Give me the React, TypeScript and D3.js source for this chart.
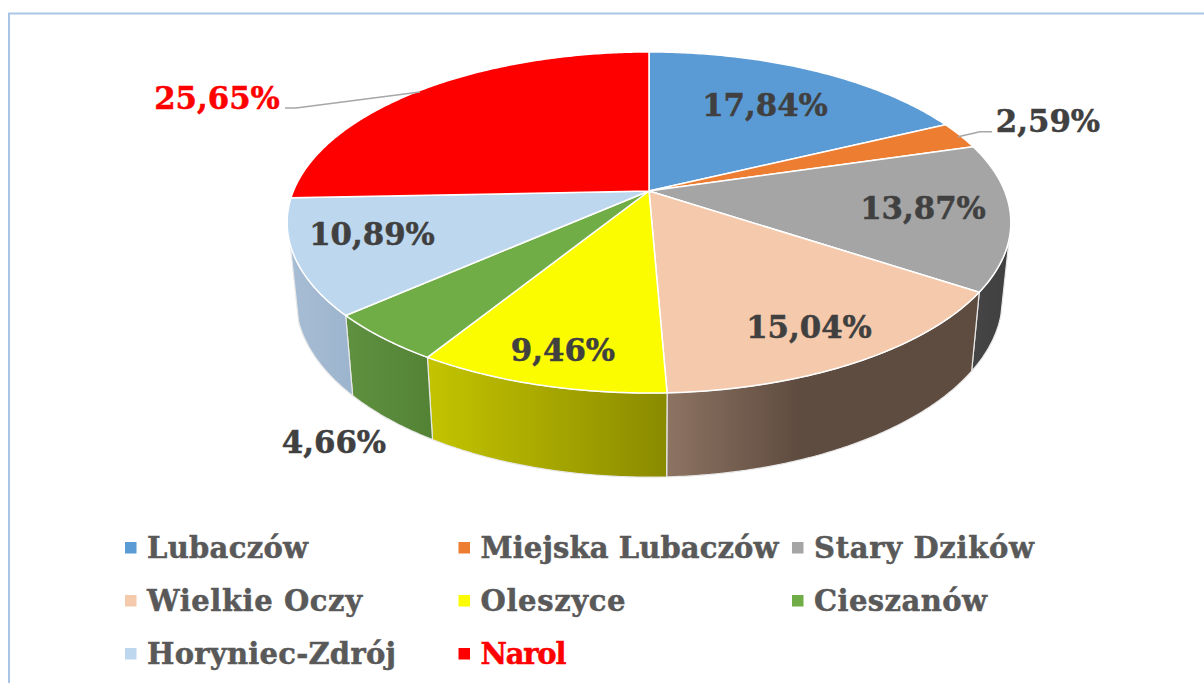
import React from "react";
import * as d3 from "d3";

const categories = ["Lubaczów", "Miejska Lubaczów", "Stary Dzików", "Wielkie Oczy", "Oleszyce", "Cieszanów", "Horyniec-Zdrój", "Narol"];
const values = [17.84, 2.59, 13.87, 15.04, 9.46, 4.66, 10.89, 25.65];
const valueLabels = ["17,84%", "2,59%", "13,87%", "15,04%", "9,46%", "4,66%", "10,89%", "25,65%"];
const topColors = ["#5b9bd5", "#ed7d31", "#a5a5a5", "#f5c9ab", "#fcfc00", "#70ad47", "#bdd7ee", "#ff0000"];
const sideFrom = ["#355d80", "#8e4b1d", "#454545", "#8d7362", "#c4c400", "#5f9140", "#a7bdd4", "#990000"];
const sideTo = ["#355d80", "#8e4b1d", "#404040", "#5f4c40", "#8a8a00", "#538235", "#9cb4cd", "#990000"];
const labelColors = ["#404040", "#404040", "#404040", "#404040", "#404040", "#404040", "#404040", "#ff0000"];
const legendColors = ["#595959", "#595959", "#595959", "#595959", "#595959", "#595959", "#595959", "#ff0000"];
const legendWidths = [161, 298, 220, 215, 145, 173, 249, 86];

const W = 1204, H = 683;
const FONT = "'DejaVu Serif', serif";
// perspective projection of the pie disc
const CX = 649, CY = 191, A = 355.6, B = 164.7, K = 0.1847;
const BOTTOM_CY = 265, BOTTOM_SX = 0.977, BOTTOM_SY = 1.05;
const SIDE_START = (106 * Math.PI) / 180, SIDE_END = (252 * Math.PI) / 180;
const labelCenters: [number, number][] = [[765, 105], [1048, 121], [923, 208], [809, 327], [563, 350], [334, 442], [372, 234], [217, 98]];
const leaders: ([number, number][] | null)[] = [null, [[992, 131.7], [980, 131.7], [958, 136.7]], null, null, null, null, null, [[285, 108], [296, 108], [420, 92]]];

const rawX = (t: number) => (A * Math.sin(t)) / (1 + K * Math.cos(t));
const rawY = (t: number) => (-B * Math.cos(t)) / (1 + K * Math.cos(t));
const topPt = (t: number): [number, number] => [CX + rawX(t), CY + rawY(t)];
const botPt = (t: number): [number, number] => [CX + BOTTOM_SX * rawX(t), BOTTOM_CY + BOTTOM_SY * rawY(t)];

const arcSamples = (t0: number, t1: number) => {
  const n = Math.max(2, Math.ceil(Math.abs(t1 - t0) / 0.01));
  return d3.range(n + 1).map((i) => t0 + ((t1 - t0) * i) / n);
};

const lineGen = d3.line<[number, number]>();

export default function App() {
  const arcs = d3.pie<number>().value((d) => d).sort(null)(values);

  const legendX = d3.scalePoint<number>().domain([0, 1, 2]).range([125, 792]);
  const legendY = d3.scalePoint<number>().domain([0, 1, 2]).range([558, 664]);

  return (
    <svg width={W} height={H} viewBox={`0 0 ${W} ${H}`} style={{ position: "fixed", left: 0, top: 0, background: "#fff" }}>
      <defs>
        {arcs.map((a, i) => {
          const t0 = Math.max(a.startAngle, SIDE_START);
          const t1 = Math.min(a.endAngle, SIDE_END);
          if (t1 <= t0) return null;
          const xs = arcSamples(t0, t1).flatMap((t) => [topPt(t)[0], botPt(t)[0]]);
          const [minX, maxX] = d3.extent(xs) as [number, number];
          return (
            <linearGradient key={i} id={`side${i}`} gradientUnits="userSpaceOnUse" x1={minX} x2={maxX} y1={0} y2={0}>
              <stop offset="0" stopColor={sideFrom[i]} />
              <stop offset={i === 3 ? 0.42 : 1} stopColor={sideTo[i]} />
              <stop offset="1" stopColor={sideTo[i]} />
            </linearGradient>
          );
        })}
      </defs>

      {/* frame */}
      <path d={lineGen([[9, H], [9, 13.5], [W, 13.5]]) ?? ""} fill="none" stroke="#a9c5e6" strokeWidth={2} />

      {/* side walls */}
      {arcs.map((a, i) => {
        const t0 = Math.max(a.startAngle, SIDE_START);
        const t1 = Math.min(a.endAngle, SIDE_END);
        if (t1 <= t0) return null;
        const ts = arcSamples(t0, t1);
        const pts = [...ts.map(topPt), ...ts.slice().reverse().map(botPt)];
        return <path key={i} d={(lineGen(pts) ?? "") + "Z"} fill={`url(#side${i})`} stroke="#e8e8e8" strokeWidth={1.2} strokeLinejoin="round" />;
      })}

      {/* top face */}
      {arcs.map((a, i) => {
        const pts: [number, number][] = [[CX, CY], ...arcSamples(a.startAngle, a.endAngle).map(topPt)];
        return <path key={i} d={(lineGen(pts) ?? "") + "Z"} fill={topColors[i]} stroke="#ffffff" strokeWidth={1.5} strokeLinejoin="round" />;
      })}

      {/* leader lines */}
      {leaders.map((l, i) => (l ? <path key={i} d={lineGen(l) ?? ""} fill="none" stroke="#a6a6a6" strokeWidth={1.5} /> : null))}

      {/* value labels */}
      {valueLabels.map((t, i) => (
        <text key={i} x={labelCenters[i][0]} y={labelCenters[i][1]} dy="0.36em" textAnchor="middle" fontFamily={FONT} fontWeight={700} fontSize={30.8} fill={labelColors[i]} stroke={labelColors[i]} strokeWidth={0.5}>
          {t}
        </text>
      ))}

      {/* legend */}
      {categories.map((c, i) => {
        const col = i % 3, row = Math.floor(i / 3);
        const x = legendX(col) as number, y = legendY(row) as number;
        return (
          <g key={c}>
            <rect x={x} y={y - 16} width={11.5} height={11.5} fill={topColors[i]} />
            <text x={x + 22} y={y} fontFamily={FONT} fontWeight={700} fontSize={29} fill={legendColors[i]} stroke={legendColors[i]} strokeWidth={0.5} textLength={legendWidths[i]} lengthAdjust="spacing">
              {c}
            </text>
          </g>
        );
      })}
    </svg>
  );
}
